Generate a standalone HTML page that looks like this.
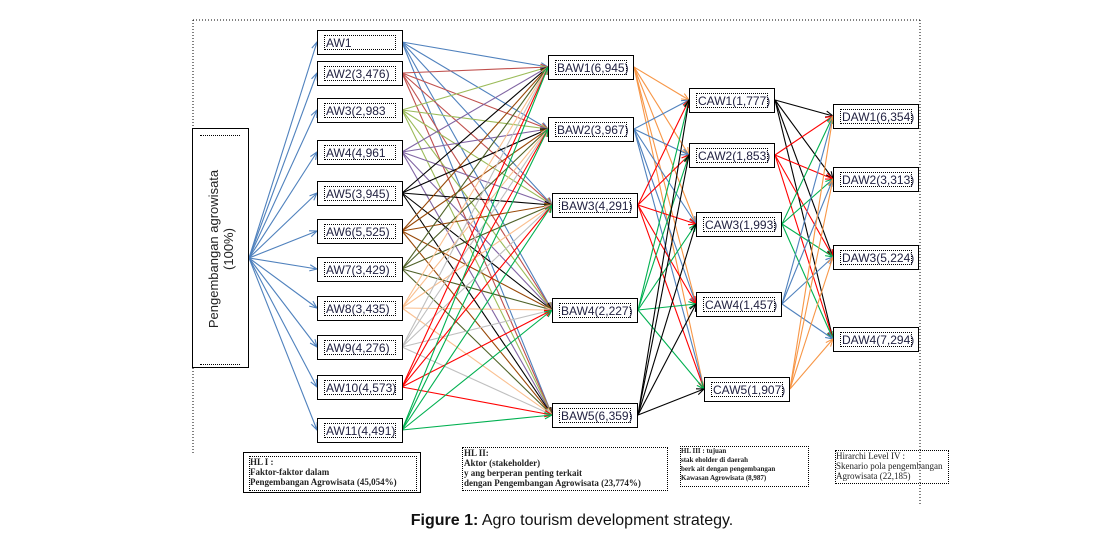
<!DOCTYPE html>
<html><head><meta charset="utf-8"><style>
body{margin:0;background:#fff;width:1114px;height:540px;overflow:hidden;position:relative;font-family:"Liberation Sans",sans-serif}
.b{position:absolute;border:1.5px solid #000;background:#fff;box-sizing:border-box}
.b span{position:absolute;left:6px;right:6px;top:4px;bottom:4px;border:1px dotted #000;font-size:12px;line-height:15px;padding-left:1px;white-space:nowrap;color:#1f1f3f}
.leg{position:absolute;border:1px dotted #000;font-family:"Liberation Serif",serif;font-size:9px;line-height:10px;font-weight:bold;color:#222}
svg{position:absolute;left:0;top:0}
</style></head><body>
<svg id="s" width="1114" height="540"></svg>
<div id="boxes"></div>
<div class="b" style="left:192px;top:128px;width:57px;height:240px">
 <div style="position:absolute;left:7px;top:6px;width:40px;height:228px;border-top:1px dotted #000;border-bottom:1px dotted #000"></div>
 <div style="position:absolute;left:28px;top:120px;width:240px;transform:translate(-50%,-50%) rotate(-90deg);text-align:center;font-size:13px;line-height:15px;color:#222">Pengembangan agrowisata<br>(100%)</div>
</div>
<div class="b" style="left:243px;top:452px;width:178px;height:41px;border-width:1px"></div>
<div class="leg" style="left:249px;top:456px;width:166px;height:33px">HL I :<br>Faktor-faktor dalam<br>Pengembangan  Agrowisata (45,054%)</div>
<div class="leg" style="left:462px;top:447px;width:203px;height:42px;padding-left:1px">HL  II:<br>Aktor (stakeholder)<br>y ang berperan penting terkait<br>dengan Pengembangan Agrowisata (23,774%)</div>
<div class="leg" style="left:680px;top:446px;width:127px;height:39px;font-size:7px;line-height:9px">HL III : tujuan<br>stak eholder di daerah<br>berk ait dengan pengembangan<br>Kawasan Agrowisata (8,987)</div>
<div class="leg" style="left:835px;top:450px;width:112px;height:32px;font-weight:normal;font-size:9px">Hirarchi Level IV :<br>Skenario pola pengembangan<br>Agrowisata (22,185)</div>
<div style="position:absolute;left:0;width:1114px;top:512px;text-align:center;font-size:16px;color:#111;padding-left:30px;box-sizing:border-box"><b>Figure 1:</b> Agro tourism development strategy.</div>
<script>
var s=document.getElementById('s'),H='';
H+='<line x1="193" y1="20" x2="920" y2="20" stroke="#000" stroke-dasharray="1,2"/>';
H+='<line x1="193" y1="20" x2="193" y2="128" stroke="#000" stroke-dasharray="1,2"/>';
H+='<line x1="193" y1="368" x2="193" y2="455" stroke="#000" stroke-dasharray="1,2"/>';
H+='<line x1="920" y1="20" x2="920" y2="505" stroke="#000" stroke-dasharray="1,2"/>';
var AW=[[30,'AW1'],[61,'AW2(3,476)'],[98,'AW3(2,983'],[140,'AW4(4,961'],[181,'AW5(3,945)'],[219,'AW6(5,525)'],[257,'AW7(3,429)'],[296,'AW8(3,435)'],[335,'AW9(4,276)'],[375,'AW10(4,573)'],[418,'AW11(4,491)']];
var BAW=[[548,55,'BAW1(6,945)'],[548,117,'BAW2(3,967)'],[552,193,'BAW3(4,291)'],[552,298,'BAW4(2,227)'],[552,403,'BAW5(6,359)']];
var CAW=[[689,88,'CAW1(1,777)'],[689,143,'CAW2(1,853)'],[696,212,'CAW3(1,993)'],[696,292,'CAW4(1,457)'],[704,377,'CAW5(1,907)']];
var DAW=[[833,104,'DAW1(6,354)'],[833,167,'DAW2(3,313)'],[833,245,'DAW3(5,224)'],[833,327,'DAW4(7,294)']];
function ln(x1,y1,x2,y2,c){
 var a=Math.atan2(y2-y1,x2-x1),L=8,w=0.4;
 H+='<line x1="'+x1+'" y1="'+y1+'" x2="'+x2+'" y2="'+y2+'" stroke="'+c+'" stroke-width="1.1"/>';
 H+='<polyline fill="none" stroke="'+c+'" stroke-width="1.1" points="'+(x2-L*Math.cos(a-w))+','+(y2-L*Math.sin(a-w))+' '+x2+','+y2+' '+(x2-L*Math.cos(a+w))+','+(y2-L*Math.sin(a+w))+'"/>';
}
var ac=['#4f81bd','#c0504d','#9bbb59','#8064a2','#000','#984807','#4f6228','#fac090','#bfbfbf','#f00','#00b050'];
AW.forEach(function(r,i){ln(249,258,317,r[0]+12,'#4f81bd');});
AW.forEach(function(r,i){BAW.forEach(function(b){ln(402,r[0]+12,b[0],b[1]+12,ac[i]);});});
var bc=['#f79646','#4f81bd','#f00','#00b050','#000'];
BAW.forEach(function(b,i){CAW.forEach(function(c){ln(b[0]+86,b[1]+12,c[0],c[1]+12,bc[i]);});});
var cc=['#000','#f00','#00b050','#4f81bd','#f79646'];
CAW.forEach(function(c,i){DAW.forEach(function(d){ln(c[0]+86,c[1]+12,d[0],d[1]+12,cc[i]);});});
s.innerHTML=H;
var B='';
AW.forEach(function(r){B+='<div class="b" style="left:317px;top:'+r[0]+'px;width:86px;height:25px"><span>'+r[1]+'</span></div>';});
[BAW,CAW,DAW].forEach(function(g){g.forEach(function(r){B+='<div class="b" style="left:'+r[0]+'px;top:'+r[1]+'px;width:86px;height:25px"><span>'+r[2]+'</span></div>';});});
document.getElementById('boxes').innerHTML=B;
</script>
</body></html>
